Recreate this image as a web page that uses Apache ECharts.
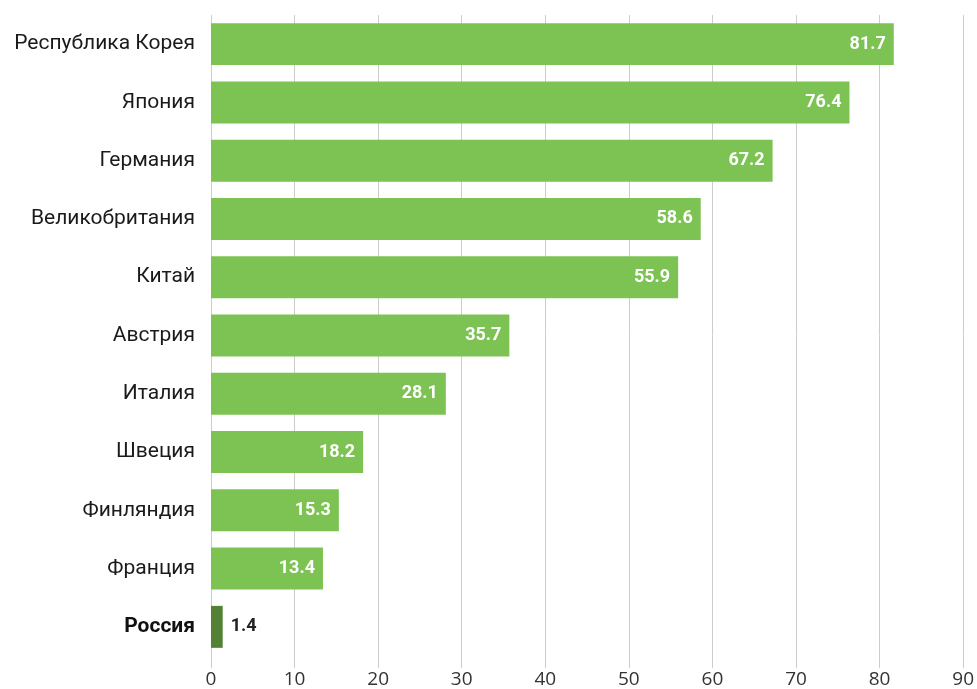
<!DOCTYPE html>
<html>
<head>
<meta charset="utf-8">
<script src="https://cdn.jsdelivr.net/npm/echarts@6/dist/echarts.min.js"></script>
<style>
    html, body { margin: 0; padding: 0; background: #fff; }
    #chart { width: 977px; height: 689px; }
</style>
</head>
<body>
<div id="chart"></div>
<script>
// countries, top to bottom
const countries = ['Республика Корея', 'Япония', 'Германия', 'Великобритания', 'Китай',
    'Австрия', 'Италия', 'Швеция', 'Финляндия', 'Франция', 'Россия'];
const values = [81.7, 76.4, 67.2, 58.6, 55.9, 35.7, 28.1, 18.2, 15.3, 13.4, 1.4];
const highlight = 'Россия';
const xTicks = [0, 10, 20, 30, 40, 50, 60, 70, 80, 90];

const chart = echarts.init(document.getElementById('chart'));

const barData = values.map(function (v, i) {
    const isHl = countries[i] === highlight;
    return {
        value: v,
        itemStyle: { color: isHl ? '#548235' : '#7dc353' },
        label: isHl ? {
            position: 'right',
            color: '#222',
            distance: 8
        } : {}
    };
});

const option = {
    animation: false,
    grid: { left: 211, right: 11, top: 15, bottom: 30, containLabel: false },
    xAxis: {
        type: 'value',
        min: xTicks[0],
        max: xTicks[xTicks.length - 1],
        interval: 10,
        axisLine: { show: false },
        axisTick: { show: true, length: 12, lineStyle: { color: '#cccccc' } },
        splitLine: { lineStyle: { color: '#cccccc', width: 1 } },
        axisLabel: {
            margin: 14,
            fontFamily: 'Open Sans',
            fontSize: 19,
            color: '#333'
        }
    },
    yAxis: {
        type: 'category',
        inverse: true,
        data: countries,
        axisLine: { show: false },
        axisTick: { show: false },
        axisLabel: {
            margin: 16,
            fontFamily: 'Roboto',
            fontSize: 21,
            color: '#1a1a1a',
            formatter: function (v) {
                return v === highlight ? '{b|' + v + '}' : v;
            },
            rich: {
                b: { fontFamily: 'Roboto', fontSize: 21, fontWeight: 'bold', color: '#111' }
            }
        }
    },
    series: [{
        type: 'bar',
        data: barData,
        barCategoryGap: '28%',
        label: {
            show: true,
            position: 'insideRight',
            distance: 8,
            color: '#fff',
            fontFamily: 'Roboto',
            fontWeight: 'bold',
            fontSize: 18,
            formatter: function (p) { return p.value.toFixed(1); }
        }
    }]
};
chart.setOption(option);
</script>
</body>
</html>
